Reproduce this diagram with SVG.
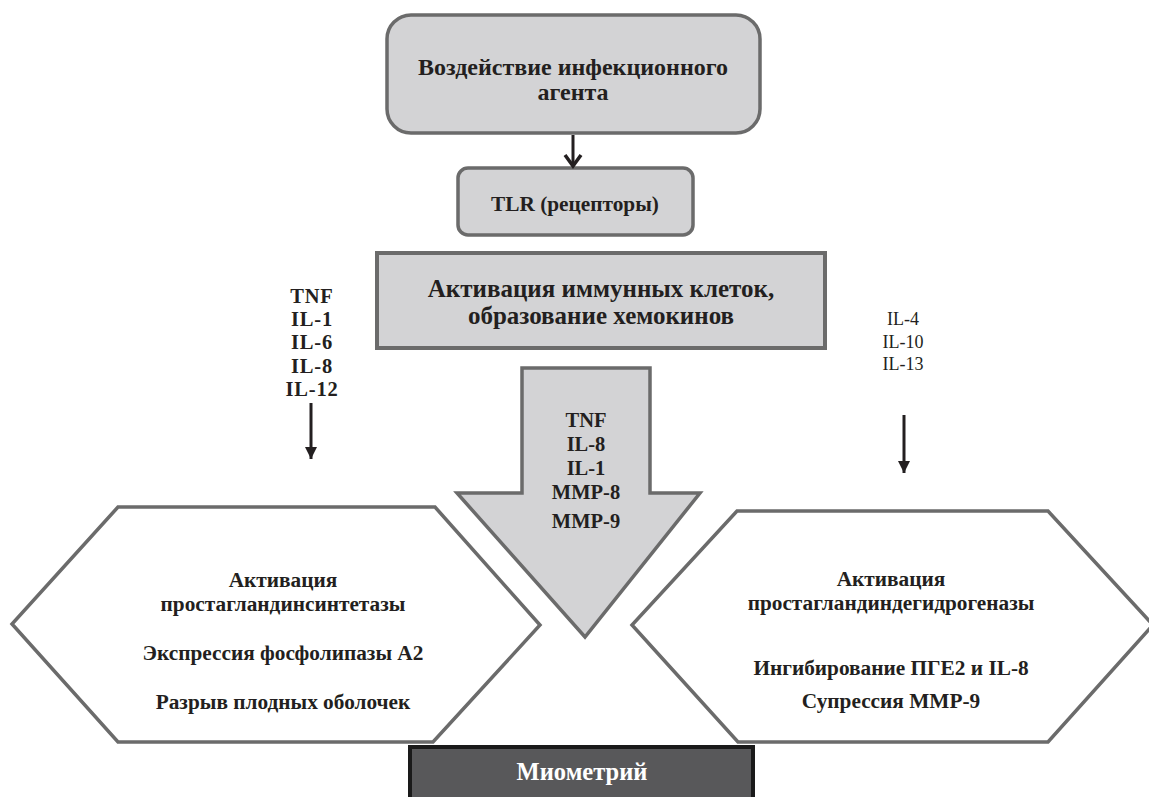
<svg xmlns="http://www.w3.org/2000/svg" width="1149" height="797" viewBox="0 0 1149 797">
<style>
.box{fill:#d3d3d5;stroke:#6b6b6b;stroke-width:3.5}
.hex{fill:#ffffff;stroke:#6b6b6b;stroke-width:3.5;stroke-linejoin:miter}
.t{font-family:"Liberation Serif","Times New Roman",serif;font-weight:bold;fill:#231f20;text-anchor:middle}
.r{font-family:"Liberation Serif","Times New Roman",serif;fill:#231f20;text-anchor:middle}
.conn{stroke:#231f20;stroke-width:3;fill:none}
</style>
<defs>
<marker id="tri" viewBox="0 0 10 10" refX="10" refY="5" markerWidth="4" markerHeight="4" markerUnits="strokeWidth" orient="auto">
<path d="M0,0 L10,5 L0,10 Z" fill="#231f20"/>
</marker>
</defs>
<rect width="1149" height="797" fill="#ffffff"/>

<g id="node-left-hex">
<polygon class="hex" points="118,507 435,507 540,625 433,742 118,742 12,624"/>
<text class="t" font-size="21.3" x="283" y="587">Активация</text>
<text class="t" font-size="21.3" x="283" y="611">простагландинсинтетазы</text>
<text class="t" font-size="21.3" x="283" y="660">Экспрессия фосфолипазы А2</text>
<text class="t" font-size="21.3" x="283" y="709">Разрыв плодных оболочек</text>
</g>

<g id="node-right-hex">
<polygon class="hex" points="737,511 1048,511 1153,625 1048,742 738,742 632,625"/>
<text class="t" font-size="21.3" x="891" y="586">Активация</text>
<text class="t" font-size="21.3" x="891" y="610">простагландиндегидрогеназы</text>
<text class="t" font-size="21.3" x="891" y="675">Ингибирование ПГЕ2 и IL-8</text>
<text class="t" font-size="21.3" x="891" y="708">Супрессия MMP-9</text>
</g>

<g id="node-big-arrow">
<polygon class="box" points="522,368 650,368 650,493 700,493 585,637 457,493 522,493" style="stroke-linejoin:miter"/>
<text class="t" font-size="20.5" x="586" y="427">TNF</text>
<text class="t" font-size="20.5" x="586" y="451">IL-8</text>
<text class="t" font-size="20.5" x="586" y="475">IL-1</text>
<text class="t" font-size="20.5" x="586" y="499">MMP-8</text>
<text class="t" font-size="20.5" x="586" y="528">MMP-9</text>
</g>

<g id="node-agent">
<rect class="box" x="387" y="15" width="373" height="118" rx="24" ry="24"/>
<text class="t" font-size="24" x="573" y="75">Воздействие инфекционного</text>
<text class="t" font-size="24" x="573" y="100">агента</text>
</g>

<g id="node-tlr">
<rect class="box" x="458" y="168" width="235" height="67" rx="10" ry="10"/>
<text class="t" font-size="21.3" x="575" y="211">TLR (рецепторы)</text>
</g>

<g id="node-activation">
<rect class="box" x="377" y="253" width="448" height="95" style="stroke-width:4"/>
<text class="t" font-size="25" x="601" y="297">Активация иммунных клеток,</text>
<text class="t" font-size="25" x="601" y="324">образование хемокинов</text>
</g>

<g id="node-left-cytokines">
<text class="t" font-size="20.5" letter-spacing="0.8" x="312" y="303">TNF</text>
<text class="t" font-size="20.5" letter-spacing="0.8" x="312" y="326">IL-1</text>
<text class="t" font-size="20.5" letter-spacing="0.8" x="312" y="349">IL-6</text>
<text class="t" font-size="20.5" letter-spacing="0.8" x="312" y="373">IL-8</text>
<text class="t" font-size="20.5" letter-spacing="0.8" x="312" y="396">IL-12</text>
</g>

<g id="node-right-cytokines">
<text class="r" font-size="18" x="903" y="325">IL-4</text>
<text class="r" font-size="18" x="903" y="348">IL-10</text>
<text class="r" font-size="18" x="903" y="370">IL-13</text>
</g>

<g id="node-myometrium">
<rect x="410" y="747" width="343" height="60" fill="#58585a" stroke="#1a1a1a" stroke-width="4"/>
<text font-family="Liberation Serif, Times New Roman, serif" font-weight="bold" font-size="24.5" fill="#ffffff" text-anchor="middle" x="582" y="780">Миометрий</text>
</g>

<g id="connectors">
<line class="conn" x1="573" y1="135" x2="573" y2="165"/>
<polyline class="conn" points="565,155 573,166 581,155" style="stroke-width:3.5"/>
<line class="conn" x1="311" y1="403" x2="311" y2="459" marker-end="url(#tri)"/>
<line class="conn" x1="904" y1="415" x2="904" y2="473" marker-end="url(#tri)"/>
</g>
</svg>
